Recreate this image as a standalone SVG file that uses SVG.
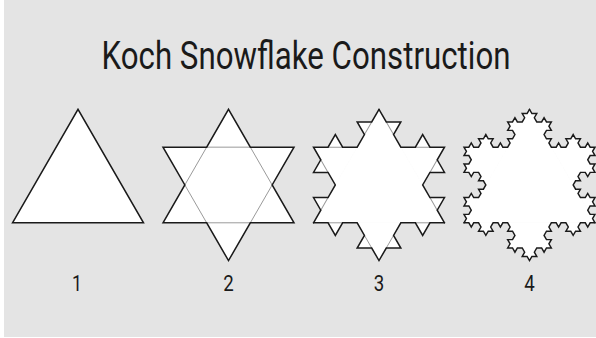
<svg xmlns="http://www.w3.org/2000/svg" width="596" height="338" viewBox="0 0 596 338">
  <style>
    .txt { font-family: Roboto, "Liberation Sans", Arial, sans-serif; font-weight: 400; fill: #1a1a1a; }
    .title { font-size: 38px; }
    .num { font-size: 22px; text-anchor: middle; }
    .fillw { fill: #ffffff; stroke: none; }
    .outline { fill: none; stroke: #1a1a1a; stroke-linejoin: miter; stroke-linecap: round; }
    .ghost { fill: none; stroke: #9a9a9a; }
  </style>
  <defs>
    <!-- Koch edge level 2: base from (0,0) to (18,0), bumps on the negative-y side -->
    <path id="k2" d="M0,0l2,0 1,-1.732 1,1.732 2,0 1,-1.732 -1,-1.732 2,0 1,-1.732 1,1.732 2,0 -1,1.732 1,1.732 2,0 1,-1.732 1,1.732 2,0"/>
    <path id="g2" d="M2,0h2M7,-1.732l1,-1.732M10,-3.464l1,1.732M14,0h2"/>
    <!-- Koch edge level 3: base from (0,0) to (54,0) -->
    <path id="k3" d="M0,0l2,0 1,-1.732 1,1.732 2,0 1,-1.732 -1,-1.732 2,0 1,-1.732 1,1.732 2,0 -1,1.732 1,1.732 2,0 1,-1.732 1,1.732 2,0 1,-1.732 -1,-1.732 2,0 1,-1.732 -1,-1.732 -2,0 1,-1.732 -1,-1.732 2,0 1,-1.732 1,1.732 2,0 1,-1.732 -1,-1.732 2,0 1,-1.732 1,1.732 2,0 -1,1.732 1,1.732 2,0 1,-1.732 1,1.732 2,0 -1,1.732 1,1.732 -2,0 -1,1.732 1,1.732 2,0 -1,1.732 1,1.732 2,0 1,-1.732 1,1.732 2,0 1,-1.732 -1,-1.732 2,0 1,-1.732 1,1.732 2,0 -1,1.732 1,1.732 2,0 1,-1.732 1,1.732 2,0"/>
  </defs>

  <rect x="0" y="0" width="596" height="338" fill="#ffffff"/>
  <rect x="4" y="0" width="592" height="337" fill="#e4e4e4"/>

  <text id="title" class="txt title" x="101.5" y="69" textLength="409" lengthAdjust="spacingAndGlyphs">Koch Snowflake Construction</text>

  <g id="fig1">
    <polygon class="fillw" points="12.5,222.8 78,109.35 143.5,222.8"/>
    <polygon class="outline" stroke-width="1.5" points="12.5,222.8 78,109.35 143.5,222.8"/>
  </g>

  <g id="fig2">
    <polygon class="fillw" points="163,222.8 184.83,184.98 163,147.17 206.67,147.17 228.5,109.35 250.33,147.17 294,147.17 272.17,184.98 294,222.8 250.33,222.8 228.5,260.62 206.67,222.8"/>
    <polygon class="ghost" stroke-width="1" points="184.83,184.98 206.67,147.17 250.33,147.17 272.17,184.98 250.33,222.8 206.67,222.8"/>
    <polygon class="outline" stroke-width="1.5" points="163,222.8 184.83,184.98 163,147.17 206.67,147.17 228.5,109.35 250.33,147.17 294,147.17 272.17,184.98 294,222.8 250.33,222.8 228.5,260.62 206.67,222.8"/>
  </g>

  <g id="fig3">
    <g class="fillw">
      <polygon points="313.5,222.8 379,109.35 444.5,222.8" stroke="#ffffff" stroke-width="1"/>
      <use href="#k2" transform="translate(313.5,222.8) rotate(-60) scale(7.27778)"/>
      <use href="#k2" transform="translate(379,109.35) rotate(60) scale(7.27778)"/>
      <use href="#k2" transform="translate(444.5,222.8) rotate(180) scale(7.27778)"/>
    </g>
    <g class="ghost" stroke-width="0.137">
      <use href="#g2" transform="translate(313.5,222.8) rotate(-60) scale(7.27778)"/>
      <use href="#g2" transform="translate(379,109.35) rotate(60) scale(7.27778)"/>
      <use href="#g2" transform="translate(444.5,222.8) rotate(180) scale(7.27778)"/>
    </g>
    <g class="outline" stroke-width="0.206">
      <use href="#k2" transform="translate(313.5,222.8) rotate(-60) scale(7.27778)"/>
      <use href="#k2" transform="translate(379,109.35) rotate(60) scale(7.27778)"/>
      <use href="#k2" transform="translate(444.5,222.8) rotate(180) scale(7.27778)"/>
    </g>
  </g>

  <g id="fig4">
    <g class="fillw">
      <polygon points="464,222.8 529.5,109.35 595,222.8" stroke="#ffffff" stroke-width="1"/>
      <use href="#k3" transform="translate(464,222.8) rotate(-60) scale(2.42593)"/>
      <use href="#k3" transform="translate(529.5,109.35) rotate(60) scale(2.42593)"/>
      <use href="#k3" transform="translate(595,222.8) rotate(180) scale(2.42593)"/>
    </g>
    <g class="outline" stroke-width="0.6">
      <use href="#k3" transform="translate(464,222.8) rotate(-60) scale(2.42593)"/>
      <use href="#k3" transform="translate(529.5,109.35) rotate(60) scale(2.42593)"/>
      <use href="#k3" transform="translate(595,222.8) rotate(180) scale(2.42593)"/>
    </g>
  </g>

  <g id="labels">
    <text class="txt num" x="77" y="291" textLength="10" lengthAdjust="spacingAndGlyphs">1</text>
    <text class="txt num" x="228.5" y="291" textLength="10.5" lengthAdjust="spacingAndGlyphs">2</text>
    <text class="txt num" x="379" y="291" textLength="10.5" lengthAdjust="spacingAndGlyphs">3</text>
    <text class="txt num" x="529.5" y="291" textLength="10.5" lengthAdjust="spacingAndGlyphs">4</text>
  </g>
</svg>
